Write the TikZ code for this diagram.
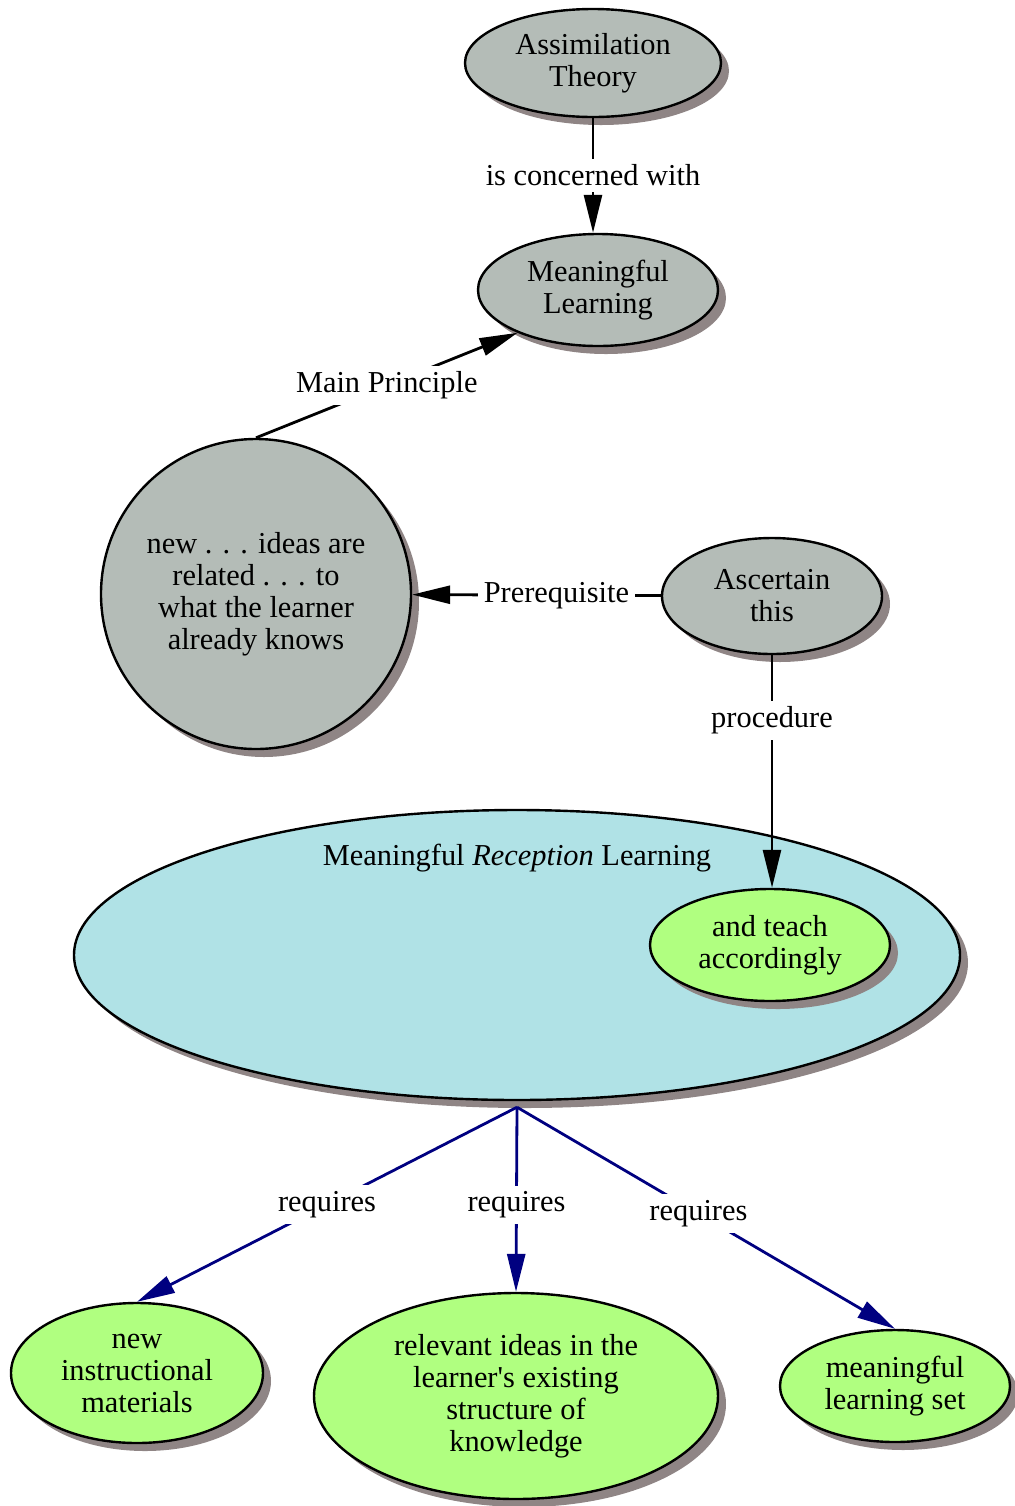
\documentclass[tikz,border=0pt]{standalone}
\usepackage{fontspec}
\setmainfont{Liberation Serif}
\usetikzlibrary{shapes.geometric,arrows.meta,shadows}
\definecolor{conceptgray}{RGB}{180,188,183}
\definecolor{shadowgray}{RGB}{143,133,133}
\definecolor{receptblue}{RGB}{176,226,230}
\definecolor{needgreen}{RGB}{176,255,128}
\definecolor{reqblue}{RGB}{0,0,128}
\begin{document}
\begin{tikzpicture}[
  x=0.5pt, y=-0.5pt,
  every node/.style={font=\fontsize{15.2}{16}\selectfont},
  concept/.style={ellipse, draw=black, line width=1.2pt, inner sep=0pt, align=center,
    drop shadow={shadow xshift=4pt, shadow yshift=-4pt, fill=shadowgray, opacity=1}},
  link/.style={draw=black, line width=1.4pt, -{Triangle[length=19pt,width=9pt]}},
  need/.style={link, draw=reqblue},
  lbl/.style={fill=white, inner sep=3pt}
]
  \useasboundingbox (0,0) rectangle (1015,1506);

  % Konzepte oben (grau)
  \node[concept, fill=conceptgray, minimum width=128pt, minimum height=54pt] (theory) at (593,63) {Assimilation\\Theory};
  \node[concept, fill=conceptgray, minimum width=120pt, minimum height=56pt] (meaning) at (598,290) {Meaningful\\Learning};
  \node[concept, circle, fill=conceptgray, minimum size=155pt] (principle) at (256,594) {new . . . ideas are\\related . . . to\\what the learner\\already knows};
  \node[concept, fill=conceptgray, minimum width=110pt, minimum height=58pt] (ascertain) at (772,596) {Ascertain\\this};

  % Grosse Ellipse mit innerem Konzept
  \node[concept, fill=receptblue, minimum width=443pt, minimum height=145pt] (reception) at (517,955) {};
  \node (receptlbl) at (517,858) {Meaningful \textit{Reception} Learning};
  \node[concept, fill=needgreen, minimum width=120pt, minimum height=56pt] (teach) at (770,945) {and teach\\accordingly};

  % Voraussetzungen unten (gruen)
  \node[concept, fill=needgreen, minimum width=126pt, minimum height=70pt] (materials) at (137,1373) {new\\instructional\\materials};
  \node[concept, fill=needgreen, minimum width=202pt, minimum height=103pt] (relevant) at (516,1396) {relevant ideas in the\\learner\textquotesingle s existing\\structure of\\knowledge};
  \node[concept, fill=needgreen, minimum width=115pt, minimum height=56pt] (learnset) at (895,1386) {meaningful\\learning set};

  % Beziehungen
  \draw[link] (theory.south) -- node[lbl] {is concerned with} (theory.south |- meaning.north);
  \draw[link] (principle.north) -- node[lbl] {Main Principle} (meaning.208);
  \draw[link] (ascertain) -- node[lbl, pos=0.42] {Prerequisite} (principle);
  \draw[link] (ascertain.south) -- node[lbl, pos=0.28] {procedure} (ascertain.south |- teach.north);

  % requires-Kanten
  \coordinate (split) at ([yshift=-3pt]reception.south);
  \draw[need] (split) -- node[lbl] {requires} (materials.north);
  \draw[need] (split) -- node[lbl, pos=0.53] {requires} (relevant.north);
  \draw[need] (split) -- node[lbl, pos=0.48] {requires} (learnset.north);
\end{tikzpicture}
\end{document}
